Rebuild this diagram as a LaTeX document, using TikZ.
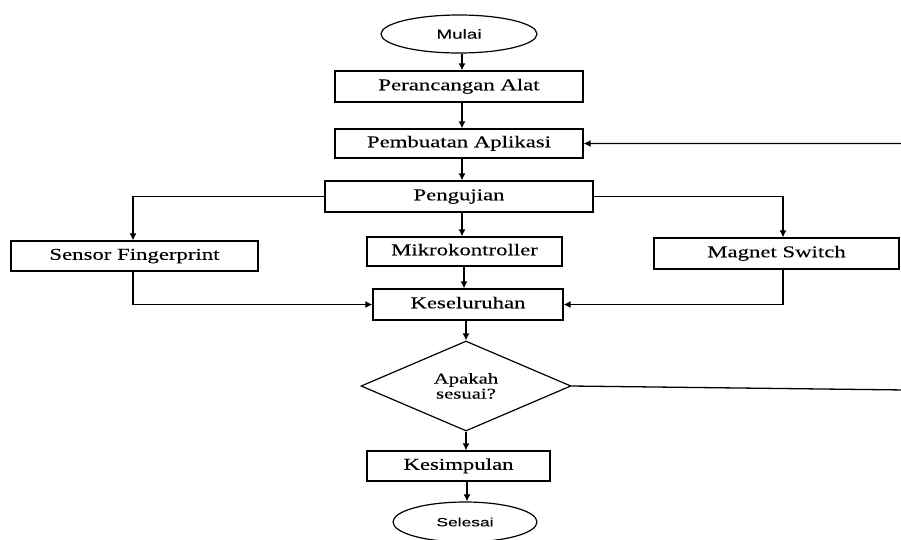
\documentclass[tikz,border=0pt]{standalone}
\usepackage{fontspec}
\setmainfont{Liberation Serif}[FakeStretch=1.38,FakeBold=0.2]
\newfontfamily\ovalfont{Liberation Sans}[FakeStretch=1.45,FakeBold=0.1]
\usetikzlibrary{shapes.geometric,arrows.meta}
\begin{document}
\begin{tikzpicture}[x=1pt,y=-1pt,
  box/.style={draw, line width=1.2pt, inner sep=0pt, font=\fontsize{16.5}{18}\selectfont, text height=11pt, text depth=3.5pt},
  oval/.style={draw, ellipse, line width=1.2pt, inner sep=0pt},
  dec/.style={draw, diamond, line width=1.2pt, inner sep=0pt, align=center, font=\fontsize{15}{15}\selectfont},
  arr/.style={line width=1.3pt, -{Latex[length=7pt,width=7pt]}},
  ln/.style={line width=1.3pt}]
\useasboundingbox (0,0) rectangle (901,539);

\node[oval, minimum width=156pt, minimum height=38pt, font=\ovalfont\fontsize{13}{14}\selectfont] (mulai) at (459,34) {Mulai};
\node[box, minimum width=248pt, minimum height=31pt] (peran) at (459,86.5) {Perancangan Alat};
\node[box, minimum width=248pt, minimum height=29pt] (pemb) at (459,143.5) {Pembuatan Aplikasi};
\node[box, minimum width=268pt, minimum height=31pt] (peng) at (459,196.5) {Pengujian};
\node[box, minimum width=247pt, minimum height=30pt] (sensor) at (134.5,256) {Sensor Fingerprint};
\node[box, minimum width=195pt, minimum height=29pt] (mikro) at (464.5,251.5) {Mikrokontroller};
\node[box, minimum width=245pt, minimum height=31pt] (magnet) at (776.5,253.5) {Magnet Switch};
\node[box, minimum width=190pt, minimum height=31pt] (kes) at (468,304.5) {Keseluruhan};
\node[dec, minimum width=210pt, minimum height=76pt] (dia) at (466,386) {Apakah\\sesuai?};
\node[box, minimum width=183pt, minimum height=30pt] (simp) at (458.5,466) {Kesimpulan};
\node[oval, minimum width=144pt, minimum height=40pt, font=\ovalfont\fontsize{12}{13}\selectfont] (selesai) at (465,522) {Selesai};

\coordinate (xa) at (462,0);
\coordinate (xb) at (464,0);
\coordinate (xs) at (133,0);
\coordinate (xm) at (783,0);
\coordinate (xd) at (467,0);
\coordinate (r1) at (906,390);
\coordinate (r2) at (906,143.5);

\draw[arr] (mulai.south -| xa) -- (peran.north -| xa);
\draw[arr] (peran.south -| xa) -- (pemb.north -| xa);
\draw[arr] (pemb.south -| xa) -- (peng.north -| xa);
\draw[arr] (peng.south -| xa) -- (mikro.north -| xa);
\draw[arr] (mikro.south -| xb) -- (kes.north -| xb);
\draw[arr] (peng.west) -| (sensor.north -| xs);
\draw[arr] (peng.east) -| (magnet.north -| xm);
\draw[arr] (sensor.south -| xs) |- (kes.west);
\draw[arr] (magnet.south -| xm) |- (kes.east);
\draw[arr] (kes.south -| dia.north) -- (dia.north);
\draw[arr] (dia.south) -- (simp.north -| dia.south);
\draw[arr] (simp.south -| xd) -- (selesai.north -| xd);
\draw[arr] (dia.east) -- (r1) -- (r2) -- (pemb.east);
\end{tikzpicture}
\end{document}
